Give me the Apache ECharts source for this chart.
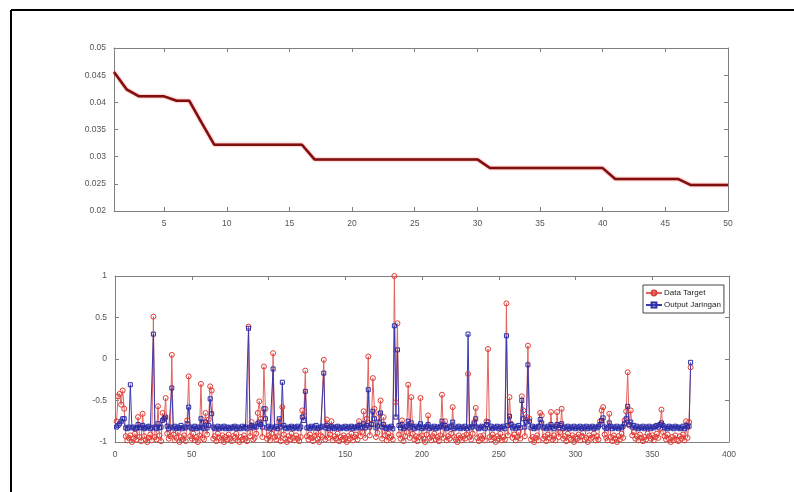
<!DOCTYPE html>
<html>
<head>
<meta charset="utf-8">
<script src="https://cdn.jsdelivr.net/npm/echarts@6/dist/echarts.min.js"></script>
<style>
    html, body { margin: 0; padding: 0; background: #fff; }
    #chart { width: 794px; height: 492px; }
</style>
</head>
<body>
<div id="chart"></div>
<script>
    // top panel: training error per epoch
    const epochTicks = [5, 10, 15, 20, 25, 30, 35, 40, 45, 50];
    const trainError = [
        0.0456, 0.0424, 0.0411, 0.0411, 0.0411, 0.0403, 0.0403, 0.0362, 0.0322, 0.0322,
        0.0322, 0.0322, 0.0322, 0.0322, 0.0322, 0.0322, 0.0295, 0.0295, 0.0295, 0.0295,
        0.0295, 0.0295, 0.0295, 0.0295, 0.0295, 0.0295, 0.0295, 0.0295, 0.0295, 0.0295,
        0.0279, 0.0279, 0.0279, 0.0279, 0.0279, 0.0279, 0.0279, 0.0279, 0.0279, 0.0279,
        0.0259, 0.0259, 0.0259, 0.0259, 0.0259, 0.0259, 0.0248, 0.0248, 0.0248, 0.0248
    ];

    // bottom panel: target vs network output (sample 1..375)
    const dataTarget = [
        -0.75,-0.45,-0.42,-0.55,-0.38,-0.60,-0.93,-0.98,-0.95,-0.92,-1.00,-0.96,-0.90,-0.97,-0.70,-0.94,-0.99,-0.66,-0.93,-0.97,-1.00,-0.95,-0.91,-0.98,0.51,
        -0.94,-0.97,-0.57,-0.92,-0.99,-0.65,-0.72,-0.47,-0.90,-0.96,-0.93,0.05,-0.91,-0.98,-0.95,-0.88,-1.00,-0.94,-0.97,-0.92,-0.99,-0.74,-0.21,-0.93,-0.96,
        -0.90,-0.98,-0.94,-1.00,-0.92,-0.30,-0.95,-0.97,-0.65,-0.91,-0.73,-0.33,-0.38,-0.96,-0.93,-0.99,-0.90,-0.95,-0.98,-0.92,-1.00,-0.94,-0.97,-0.91,-0.96,
        -0.99,-0.93,-0.95,-0.90,-0.98,-1.00,-0.94,-0.97,-0.92,-0.96,-0.99,0.39,-0.93,-0.76,-0.97,-0.95,-0.90,-0.65,-0.51,-0.72,-0.94,-0.09,-0.60,-0.96,-0.92,
        -0.98,-0.90,0.07,-0.94,-0.97,-0.93,-0.75,-0.99,-0.58,-0.91,-0.96,-1.00,-0.93,-0.97,-0.90,-0.95,-0.98,-0.92,-0.96,-0.99,-0.94,-0.62,-0.68,-0.14,-0.93,
        -0.97,-0.91,-0.95,-0.99,-0.93,-0.88,-0.96,-1.00,-0.92,-0.94,-0.01,-0.97,-0.73,-0.95,-0.91,-0.75,-0.98,-0.93,-0.96,-0.90,-0.99,-0.94,-0.97,-0.92,-0.95,
        -1.00,-0.93,-0.96,-0.90,-0.98,-0.94,-0.91,-0.97,-0.75,-0.93,-0.88,-0.63,-0.95,-0.72,0.03,-0.92,-0.78,-0.23,-0.60,-0.94,-0.89,-0.66,-0.50,-0.96,-0.70,
        -0.92,-0.98,-0.90,-0.95,-0.93,-0.97,1.00,-0.52,0.43,-0.91,-0.96,-0.74,-0.99,-0.93,-0.88,-0.31,-0.95,-0.46,-0.90,-0.97,-0.93,-0.99,-0.94,-0.47,-0.92,
        -0.96,-1.00,-0.91,-0.68,-0.95,-0.98,-0.93,-0.90,-0.97,-0.94,-0.99,-0.92,-0.43,-0.95,-0.75,-0.98,-0.93,-0.96,-0.90,-0.58,-0.94,-0.97,-1.00,-0.92,-0.95,
        -0.98,-0.93,-0.96,-0.91,-0.18,-0.94,-0.97,-0.90,-0.76,-0.59,-0.95,-0.99,-0.93,-0.96,-0.92,-0.98,-0.75,0.12,-0.94,-0.97,-0.91,-0.95,-1.00,-0.93,-0.96,
        -0.90,-0.98,-0.94,-0.97,0.67,-0.92,-0.46,-0.78,-0.95,-0.91,-0.98,-0.94,-0.88,-0.96,-0.45,-0.62,-0.93,-0.70,0.16,-0.72,-0.97,-0.94,-1.00,-0.95,-0.92,
        -0.98,-0.65,-0.68,-0.96,-0.93,-0.99,-0.91,-0.95,-0.64,-0.97,-0.92,-0.98,-0.64,-0.94,-0.88,-0.60,-0.96,-0.93,-0.99,-0.90,-0.95,-0.97,-0.92,-1.00,-0.94,
        -0.96,-0.91,-0.98,-0.93,-0.89,-0.97,-0.95,-1.00,-0.92,-0.96,-0.94,-0.90,-0.98,-0.93,-0.97,-0.75,-0.62,-0.58,-0.91,-0.95,-0.98,-0.66,-0.94,-0.99,-0.92,
        -0.96,-1.00,-0.93,-0.97,-0.90,-0.95,-0.74,-0.63,-0.16,-0.80,-0.62,-0.92,-0.88,-0.96,-0.93,-0.98,-0.91,-0.95,-0.99,-0.94,-0.97,-0.90,-0.93,-0.96,-0.92,
        -0.98,-0.94,-0.90,-0.95,-0.84,-0.61,-0.88,-0.93,-0.97,-0.91,-0.96,-1.00,-0.94,-0.98,-0.92,-0.97,-0.99,-0.93,-0.96,-0.91,-0.98,-0.75,-0.95,-0.76,-0.10
    ];
    const outputJaringan = [
        -0.82,-0.80,-0.78,-0.75,-0.72,-0.72,-0.83,-0.84,-0.82,-0.31,-0.83,-0.82,-0.84,-0.83,-0.79,-0.83,-0.82,-0.80,-0.84,-0.83,-0.82,-0.81,-0.84,-0.83,0.30,
        -0.82,-0.84,-0.78,-0.83,-0.82,-0.74,-0.72,-0.70,-0.81,-0.84,-0.82,-0.35,-0.83,-0.81,-0.84,-0.82,-0.83,-0.80,-0.84,-0.82,-0.83,-0.78,-0.58,-0.82,-0.84,
        -0.83,-0.81,-0.84,-0.82,-0.83,-0.72,-0.82,-0.84,-0.76,-0.83,-0.80,-0.48,-0.66,-0.82,-0.84,-0.83,-0.81,-0.84,-0.82,-0.83,-0.81,-0.84,-0.82,-0.83,-0.84,
        -0.82,-0.83,-0.81,-0.84,-0.82,-0.83,-0.84,-0.81,-0.83,-0.82,-0.84,0.37,-0.82,-0.80,-0.83,-0.81,-0.82,-0.78,-0.76,-0.79,-0.82,-0.60,-0.72,-0.83,-0.81,
        -0.84,-0.82,-0.12,-0.83,-0.81,-0.84,-0.72,-0.82,-0.28,-0.80,-0.83,-0.84,-0.82,-0.83,-0.81,-0.84,-0.82,-0.83,-0.81,-0.84,-0.82,-0.70,-0.74,-0.39,-0.83,
        -0.82,-0.84,-0.81,-0.83,-0.82,-0.80,-0.84,-0.83,-0.82,-0.81,-0.17,-0.83,-0.80,-0.84,-0.82,-0.81,-0.83,-0.84,-0.82,-0.81,-0.83,-0.84,-0.82,-0.83,-0.81,
        -0.84,-0.82,-0.83,-0.81,-0.84,-0.82,-0.83,-0.81,-0.80,-0.83,-0.82,-0.78,-0.83,-0.80,-0.37,-0.82,-0.79,-0.63,-0.72,-0.83,-0.81,-0.76,-0.65,-0.82,-0.79,
        -0.83,-0.84,-0.82,-0.83,-0.81,-0.84,0.40,-0.70,0.11,-0.80,-0.83,-0.79,-0.84,-0.82,-0.81,-0.75,-0.83,-0.77,-0.82,-0.84,-0.81,-0.83,-0.82,-0.78,-0.84,
        -0.82,-0.83,-0.81,-0.79,-0.84,-0.82,-0.83,-0.81,-0.84,-0.82,-0.83,-0.81,-0.75,-0.82,-0.80,-0.84,-0.83,-0.81,-0.82,-0.76,-0.84,-0.82,-0.83,-0.81,-0.84,
        -0.82,-0.83,-0.81,-0.84,0.30,-0.82,-0.83,-0.81,-0.78,-0.72,-0.82,-0.84,-0.83,-0.81,-0.82,-0.84,-0.79,-0.76,-0.83,-0.81,-0.84,-0.82,-0.83,-0.81,-0.84,
        -0.82,-0.83,-0.81,-0.84,0.28,-0.80,-0.69,-0.79,-0.83,-0.81,-0.84,-0.82,-0.80,-0.83,-0.50,-0.72,-0.82,-0.76,-0.07,-0.75,-0.83,-0.81,-0.84,-0.82,-0.83,
        -0.81,-0.73,-0.77,-0.83,-0.82,-0.84,-0.81,-0.83,-0.79,-0.82,-0.84,-0.81,-0.79,-0.83,-0.80,-0.78,-0.84,-0.82,-0.83,-0.81,-0.84,-0.82,-0.83,-0.81,-0.84,
        -0.82,-0.83,-0.81,-0.84,-0.82,-0.83,-0.81,-0.84,-0.82,-0.83,-0.81,-0.84,-0.82,-0.83,-0.81,-0.79,-0.74,-0.71,-0.82,-0.84,-0.83,-0.77,-0.81,-0.84,-0.82,
        -0.83,-0.81,-0.84,-0.82,-0.83,-0.81,-0.78,-0.72,-0.57,-0.79,-0.76,-0.82,-0.80,-0.83,-0.81,-0.84,-0.82,-0.83,-0.81,-0.84,-0.82,-0.83,-0.81,-0.84,-0.82,
        -0.83,-0.81,-0.80,-0.82,-0.79,-0.77,-0.80,-0.83,-0.82,-0.84,-0.81,-0.83,-0.82,-0.84,-0.81,-0.83,-0.82,-0.84,-0.83,-0.81,-0.84,-0.80,-0.82,-0.81,-0.04
    ];

    const FONT = '"Liberation Sans", Arial, sans-serif';
    const AXIS_COLOR = '#808080';
    const LABEL_COLOR = '#555';
    const RED = '#e03a32';
    const BLUE = '#2b2ba6';

    // MATLAB-like box axis: ticks inside, optional labels
    function boxAxis(extra, withLabels) {
        return Object.assign({
            type: 'value',
            axisLine: { show: true, onZero: false, lineStyle: { color: AXIS_COLOR, width: 1 } },
            axisTick: { show: true, inside: true, length: 4, lineStyle: { color: AXIS_COLOR } },
            axisLabel: {
                show: withLabels,
                color: LABEL_COLOR,
                fontSize: 8.5,
                fontFamily: FONT
            },
            splitLine: { show: false }
        }, extra);
    }

    const chart = echarts.init(document.getElementById('chart'), null, { renderer: 'canvas' });

    chart.setOption({
        animation: false,
        backgroundColor: '#fff',
        grid: [
            { left: 114, top: 48, width: 614, height: 163 },
            { left: 115, top: 276, width: 614, height: 166 }
        ],
        legend: {
            data: ['Data Target', 'Output Jaringan'],
            orient: 'vertical',
            left: 643,
            top: 285,
            itemWidth: 16,
            itemHeight: 6,
            itemGap: 4,
            padding: [4, 3, 4, 2],
            borderColor: '#444',
            borderWidth: 1,
            borderRadius: 0,
            backgroundColor: '#fff',
            textStyle: { fontSize: 8, fontFamily: FONT, color: '#222', padding: [0, 0, 0, -3] }
        },
        xAxis: [
            boxAxis({
                gridIndex: 0, position: 'bottom', min: 1, max: 50,
                axisTick: { show: true, inside: true, length: 4, lineStyle: { color: AXIS_COLOR }, customValues: epochTicks },
                axisLabel: { show: true, color: LABEL_COLOR, fontSize: 8.5, fontFamily: FONT, margin: 8, customValues: epochTicks }
            }, true),
            boxAxis({
                gridIndex: 0, position: 'top', min: 1, max: 50,
                axisTick: { show: true, inside: true, length: 4, lineStyle: { color: AXIS_COLOR }, customValues: epochTicks }
            }, false),
            boxAxis({ gridIndex: 1, position: 'bottom', min: 0, max: 400, interval: 50 }, true),
            boxAxis({ gridIndex: 1, position: 'top', min: 0, max: 400, interval: 50 }, false)
        ],
        yAxis: [
            boxAxis({ gridIndex: 0, position: 'left', min: 0.02, max: 0.05, interval: 0.005 }, true),
            boxAxis({ gridIndex: 0, position: 'right', min: 0.02, max: 0.05, interval: 0.005 }, false),
            boxAxis({ gridIndex: 1, position: 'left', min: -1, max: 1, interval: 0.5 }, true),
            boxAxis({ gridIndex: 1, position: 'right', min: -1, max: 1, interval: 0.5 }, false)
        ],
        series: [
            {
                name: 'Training Error',
                type: 'line',
                xAxisIndex: 0,
                yAxisIndex: 0,
                data: trainError.map((v, i) => [i + 1, v]),
                showSymbol: false,
                lineStyle: {
                    color: '#7e1010',
                    width: 2.5,
                    shadowColor: 'rgba(255, 60, 60, 0.8)',
                    shadowBlur: 2
                }
            },
            {
                name: 'Data Target',
                type: 'line',
                xAxisIndex: 2,
                yAxisIndex: 2,
                data: dataTarget.map((v, i) => [i + 1, v]),
                symbol: 'circle',
                symbolSize: 5,
                showAllSymbol: true,
                color: RED,
                itemStyle: { color: 'rgba(255,255,255,0)', borderColor: RED, borderWidth: 1 },
                lineStyle: { color: '#e2625c', width: 1 }
            },
            {
                name: 'Output Jaringan',
                type: 'line',
                xAxisIndex: 2,
                yAxisIndex: 2,
                data: outputJaringan.map((v, i) => [i + 1, v]),
                symbol: 'rect',
                symbolSize: 4,
                showAllSymbol: true,
                color: BLUE,
                itemStyle: { color: 'rgba(255,255,255,0)', borderColor: BLUE, borderWidth: 1 },
                lineStyle: { color: '#3a3ab0', width: 1 }
            }
        ],
        graphic: [
            { type: 'line', shape: { x1: 11, y1: 10, x2: 794, y2: 10 }, style: { stroke: '#000', lineWidth: 2 } },
            { type: 'line', shape: { x1: 11, y1: 10, x2: 11, y2: 492 }, style: { stroke: '#000', lineWidth: 2 } }
        ]
    });
</script>
</body>
</html>
